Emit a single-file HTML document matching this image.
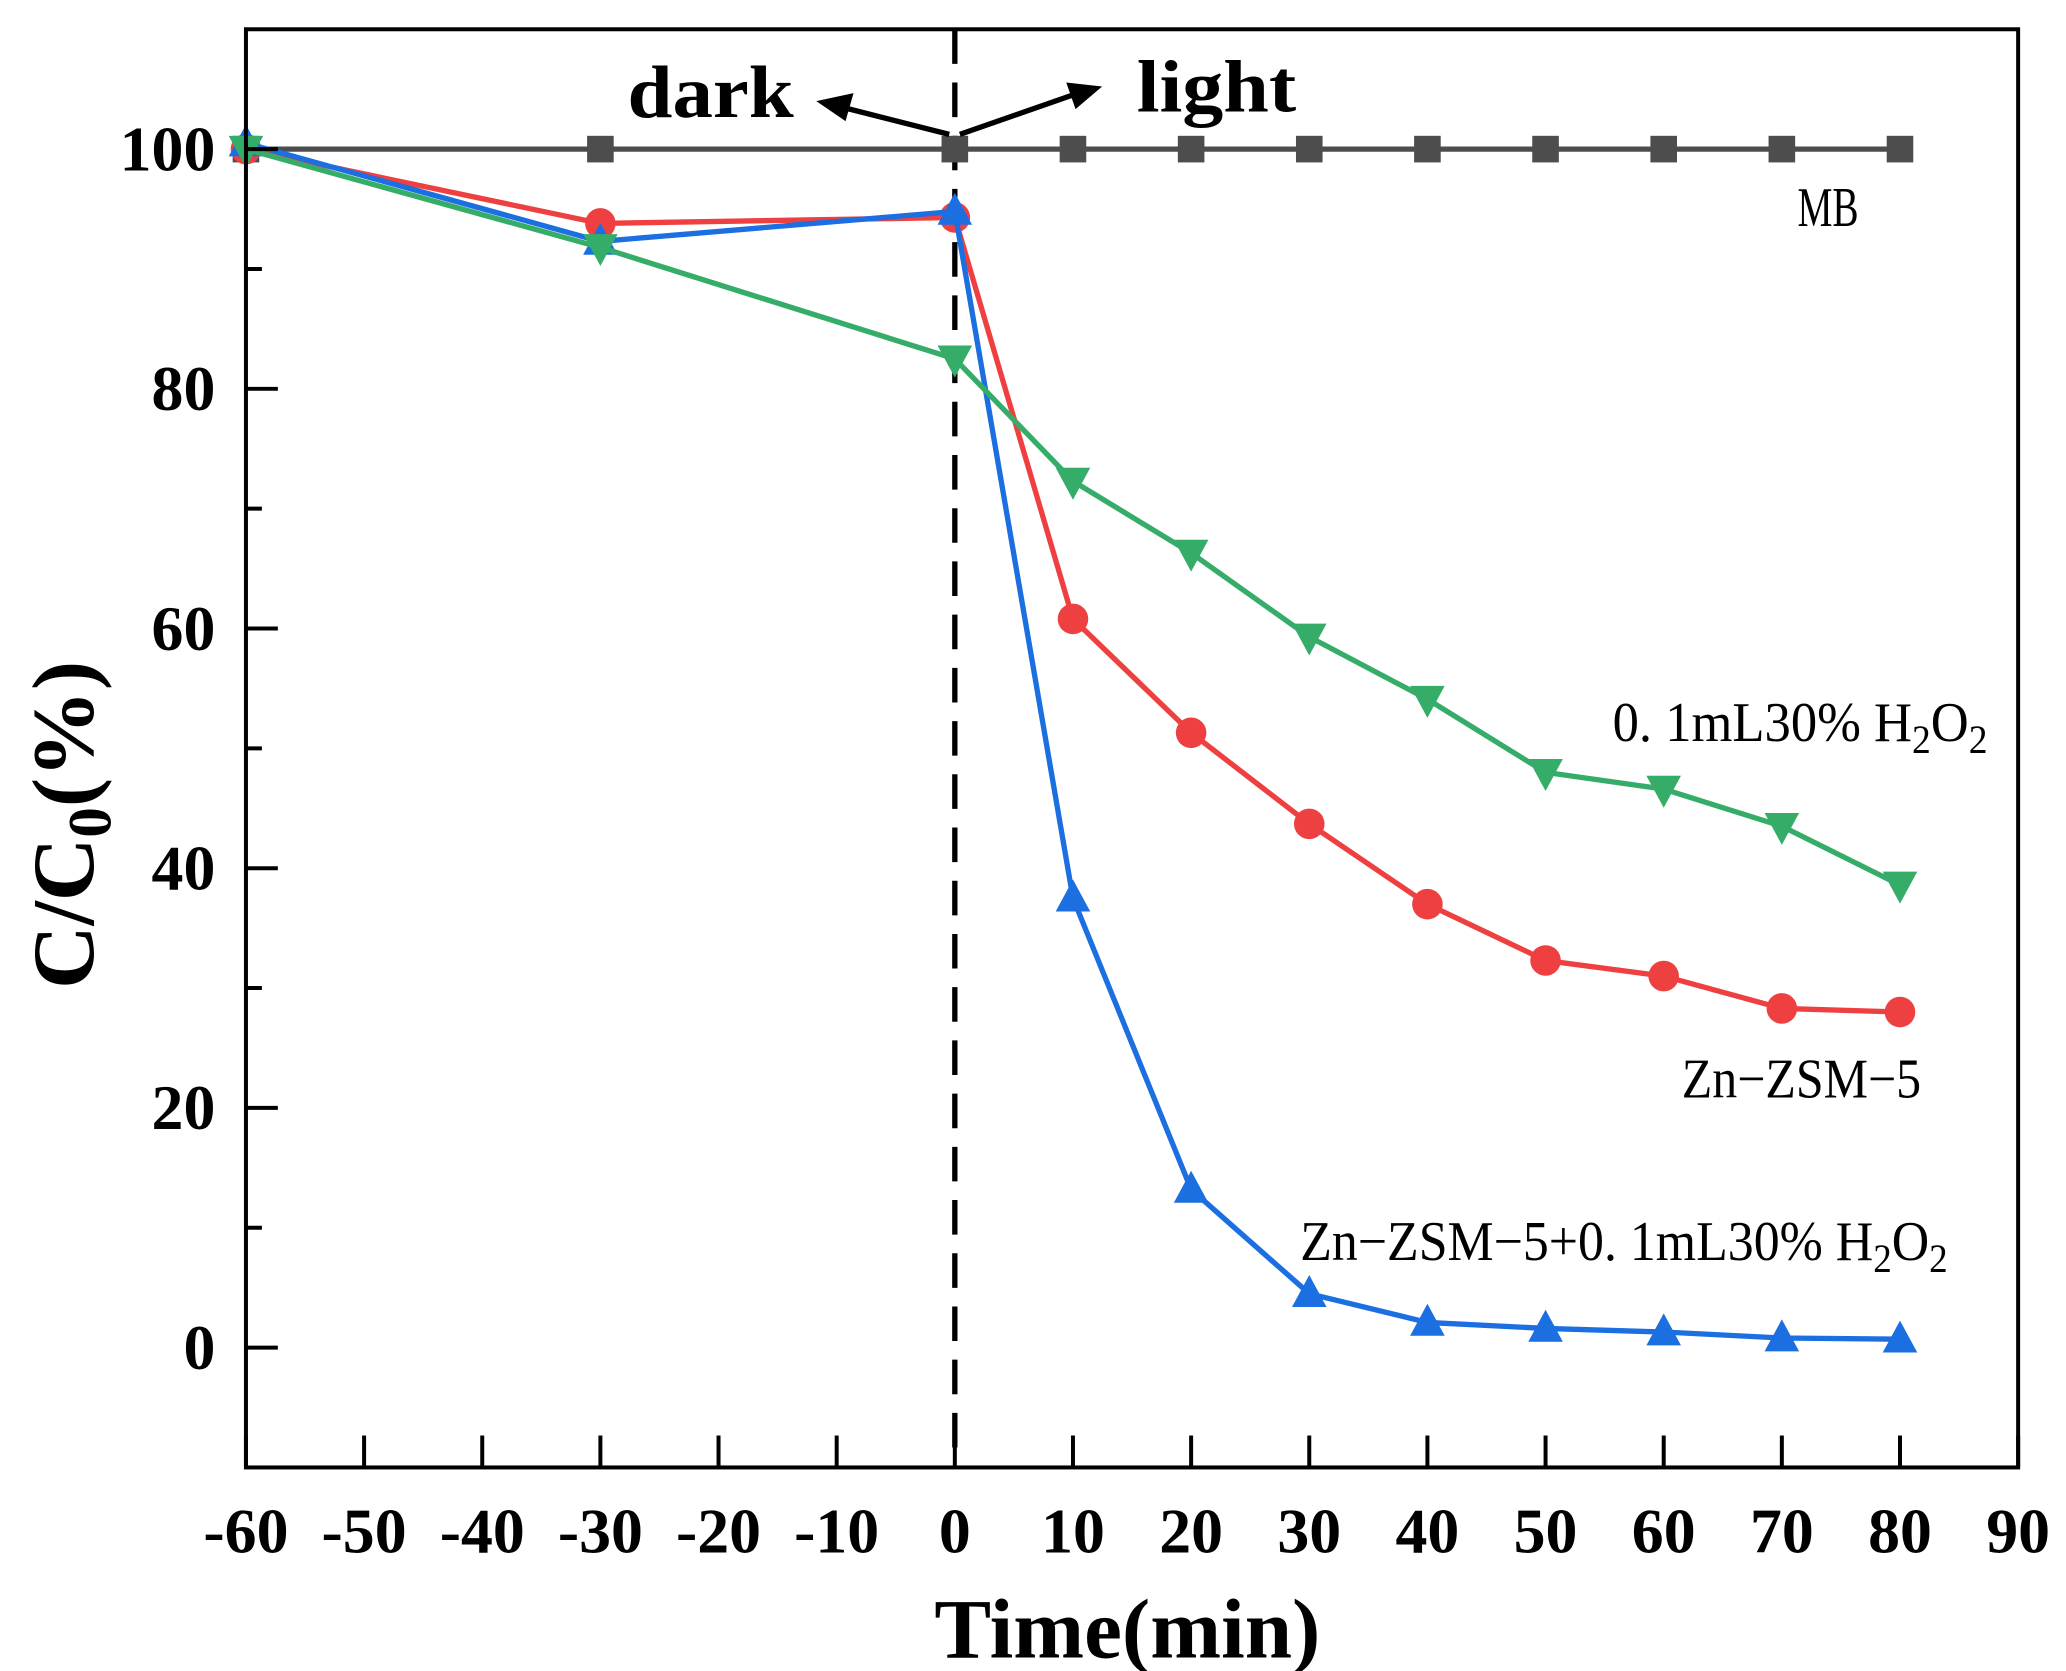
<!DOCTYPE html>
<html><head><meta charset="utf-8"><style>
html,body{margin:0;padding:0;background:#fff;}
svg{display:block;}
</style></head><body>
<svg id="chart" width="2066" height="1671" viewBox="0 0 1554 1256" preserveAspectRatio="none" xmlns="http://www.w3.org/2000/svg" font-family="'Liberation Serif', serif">
<rect width="1554" height="1256" fill="#fff"/>
<g id="marks"></g>
<rect x="185" y="22" width="1333" height="1081" fill="none" stroke="#000" stroke-width="3"/>
<g id="axes"></g>
<text transform="translate(70,620) rotate(-90)" text-anchor="middle" font-weight="bold" font-size="66">C/C<tspan font-size="46" dy="13">0</tspan><tspan dy="-13">(%)</tspan></text>
<text x="848" y="1246" text-anchor="middle" font-weight="bold" font-size="64">Time(min)</text>
<text x="472" y="88" font-weight="bold" font-size="56" textLength="125" lengthAdjust="spacingAndGlyphs">dark</text>
<text x="855" y="84" font-weight="bold" font-size="56" textLength="120" lengthAdjust="spacingAndGlyphs">light</text>
<g>
<line x1="714" y1="101" x2="635" y2="81" stroke="#000" stroke-width="4"/>
<polygon points="614,76 642,70 636,91" fill="#000"/>
</g>
<g>
<line x1="722" y1="101" x2="808" y2="71" stroke="#000" stroke-width="4"/>
<polygon points="829,65 802,62 809,82" fill="#000"/>
</g>
<g font-size="42" fill="#000">
<text x="1352" y="170" textLength="46" lengthAdjust="spacingAndGlyphs">MB</text>
<text x="1213" y="557" textLength="282" lengthAdjust="spacingAndGlyphs">0. 1mL30% H<tspan font-size="30" dy="9">2</tspan><tspan dy="-9">O</tspan><tspan font-size="30" dy="9">2</tspan></text>
<text x="1265" y="825" textLength="180" lengthAdjust="spacingAndGlyphs">Zn−ZSM−5</text>
<text x="978" y="947" textLength="487" lengthAdjust="spacingAndGlyphs">Zn−ZSM−5+0. 1mL30% H<tspan font-size="30" dy="9">2</tspan><tspan dy="-9">O</tspan><tspan font-size="30" dy="9">2</tspan></text>
</g>
</svg>
<script>
const times = [-60, -30, 0, 10, 20, 30, 40, 50, 60, 70, 80];
const mbValues = [100, 100, 100, 100, 100, 100, 100, 100, 100, 100, 100];
const znValues = [100, 93.8, 94.3, 60.8, 51.3, 43.7, 37, 32.3, 31, 28.3, 28];
const znH2o2Values = [100.5, 92.3, 94.8, 37.5, 13.2, 4.5, 2.1, 1.6, 1.3, 0.8, 0.7];
const h2o2Values = [100, 91.8, 82.5, 72.3, 66.3, 59.3, 54.1, 48, 46.6, 43.5, 38.6];
const xTickLabels = [-60, -50, -40, -30, -20, -10, 0, 10, 20, 30, 40, 50, 60, 70, 80, 90];
const yTickLabels = [0, 20, 40, 60, 80, 100];
const yMinorTicks = [10, 30, 50, 70, 90];

const NS = 'http://www.w3.org/2000/svg';
const X0 = 185, X1 = 1518, Y0 = 1103, Y1 = 22;
function xs(v){ return X0 + (v + 60) / 150 * (X1 - X0); }
function ys(v){ return Y0 - (v + 10) / 120 * (Y0 - Y1); }
function mk(tag, attrs, parent){ const e = document.createElementNS(NS, tag); for (const k in attrs) e.setAttribute(k, attrs[k]); parent.appendChild(e); return e; }

const axes = document.getElementById('axes');
xTickLabels.forEach(v => {
  const l = mk('line', {x1: xs(v), x2: xs(v), y1: Y0, y2: Y0 - 24, stroke: '#000', 'stroke-width': 3}, axes);
  
  
  const t = mk('text', {x: xs(v), y: 1167, 'text-anchor': 'middle', 'font-weight': 'bold', 'font-size': 48}, axes);
  t.textContent = v;
  
  
});
yTickLabels.forEach(v => {
  const l = mk('line', {x1: X0, x2: X0 + 24, y1: ys(v), y2: ys(v), stroke: '#000', 'stroke-width': 3}, axes);
  
  
  const t = mk('text', {x: 162, y: ys(v) + 16, 'text-anchor': 'end', 'font-weight': 'bold', 'font-size': 48}, axes);
  t.textContent = v;
  
  
});
yMinorTicks.forEach(v => {
  const l = mk('line', {x1: X0, x2: X0 + 12, y1: ys(v), y2: ys(v), stroke: '#000', 'stroke-width': 3}, axes);
  
  
});

const marks = document.getElementById('marks');
const dl = mk('line', {x1: xs(0), x2: xs(0), y1: Y1, y2: Y0, stroke: '#000', 'stroke-width': 4, 'stroke-dasharray': '26 14'}, marks);



function series(vals, color, shape, name){
  const g = mk('g', {}, marks);
  
  
  const pts = times.map((t, i) => xs(t) + ',' + ys(vals[i])).join(' ');
  mk('polyline', {points: pts, fill: 'none', stroke: color, 'stroke-width': 4}, g);
  times.forEach((t, i) => {
    const x = xs(t), y = ys(vals[i]);
    let m;
    if (shape === 'square') m = mk('rect', {x: x - 10, y: y - 10, width: 20, height: 20, fill: color}, g);
    else if (shape === 'circle') m = mk('circle', {cx: x, cy: y, r: 11.5, fill: color}, g);
    else if (shape === 'up') m = mk('polygon', {points: `${x},${y-14} ${x-13},${y+10} ${x+13},${y+10}`, fill: color}, g);
    else m = mk('polygon', {points: `${x},${y+14} ${x-13},${y-10} ${x+13},${y-10}`, fill: color}, g);
    
    
  });
}
series(mbValues, '#4d4d4d', 'square', 'series-mb');
series(znValues, '#ee4040', 'circle', 'series-zn-zsm5');
series(znH2o2Values, '#1b6fe0', 'up', 'series-zn-zsm5-h2o2');
series(h2o2Values, '#35ad69', 'down', 'series-h2o2');
</script>
</body></html>
